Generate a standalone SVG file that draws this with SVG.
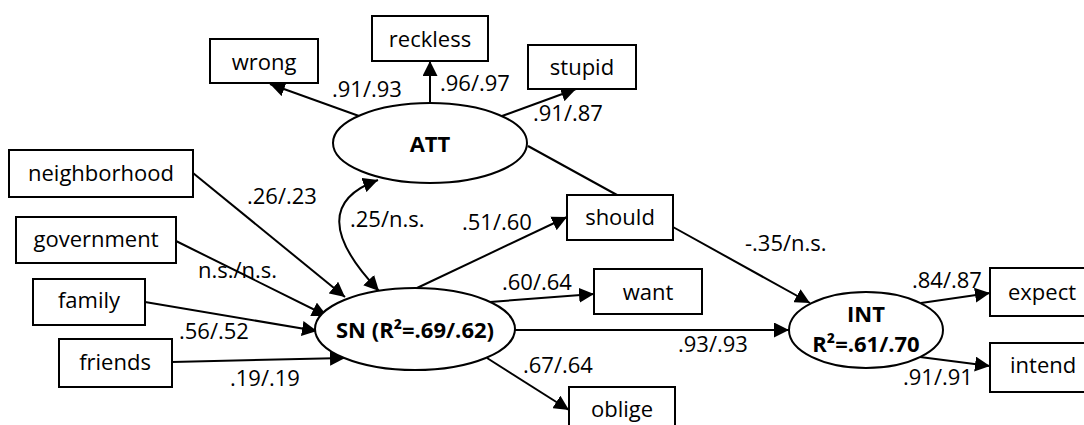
<svg xmlns="http://www.w3.org/2000/svg" width="1084" height="425" viewBox="0 0 1084 425">
  <style>
    .box { fill: #fff; stroke: #000; stroke-width: 2; }
    .lat { fill: #fff; stroke: #000; stroke-width: 2; }
    .lbl { font-family: "Open Sans", "Liberation Sans", sans-serif; font-size: 22px; fill: #000; }
    .nt { font-family: "Open Sans", "Liberation Sans", sans-serif; font-size: 22px; fill: #000; text-anchor: middle; }
    .bold { font-weight: bold; }
    .edge { fill: none; stroke: #000; stroke-width: 2; }
  </style>
  <defs>
    <marker id="arrow" viewBox="0 0 10 10" refX="10" refY="5" markerUnits="userSpaceOnUse" markerWidth="15" markerHeight="15" orient="auto-start-reverse">
      <path d="M0,0 L10,5 L0,10 z" fill="#000"/>
    </marker>
  </defs>

  <rect width="1084" height="425" fill="#fff"/>

  <!-- connectors -->
  <g id="connectors">
    <line class="edge" x1="359" y1="116" x2="270" y2="84" marker-end="url(#arrow)"/>
    <line class="edge" x1="430" y1="103" x2="430" y2="61" marker-end="url(#arrow)"/>
    <line class="edge" x1="502" y1="116" x2="576" y2="89" marker-end="url(#arrow)"/>
    <line class="edge" x1="528" y1="146" x2="617" y2="195"/>
    <path class="edge" d="M378,180 Q300,208 379,291" marker-start="url(#arrow)" marker-end="url(#arrow)"/>
    <line class="edge" x1="193" y1="173" x2="345" y2="297" marker-end="url(#arrow)"/>
    <line class="edge" x1="176" y1="241" x2="327" y2="316" marker-end="url(#arrow)"/>
    <line class="edge" x1="145" y1="302" x2="317" y2="331" marker-end="url(#arrow)"/>
    <line class="edge" x1="172" y1="362" x2="345" y2="358" marker-end="url(#arrow)"/>
    <line class="edge" x1="417" y1="288" x2="567" y2="217" marker-end="url(#arrow)"/>
    <line class="edge" x1="490" y1="302" x2="594" y2="294" marker-end="url(#arrow)"/>
    <line class="edge" x1="515" y1="330" x2="789" y2="330" marker-end="url(#arrow)"/>
    <line class="edge" x1="487" y1="358" x2="569" y2="410" marker-end="url(#arrow)"/>
    <line class="edge" x1="673" y1="227" x2="810" y2="303" marker-end="url(#arrow)"/>
    <line class="edge" x1="921" y1="303" x2="990" y2="293" marker-end="url(#arrow)"/>
    <line class="edge" x1="920" y1="357" x2="990" y2="366" marker-end="url(#arrow)"/>
  </g>

  <!-- path coefficients -->
  <g id="coefficients" class="lbl">
    <text x="332" y="97">.91/.93</text>
    <text x="440" y="91">.96/.97</text>
    <text x="533" y="121">.91/.87</text>
    <text x="247" y="204">.26/.23</text>
    <text x="350" y="227">.25/n.s.</text>
    <text x="198" y="278">n.s./n.s.</text>
    <text x="179" y="339">.56/.52</text>
    <text x="230" y="386">.19/.19</text>
    <text x="462" y="230">.51/.60</text>
    <text x="502" y="290">.60/.64</text>
    <text x="678" y="352">.93/.93</text>
    <text x="523" y="373">.67/.64</text>
    <text x="745" y="251">-.35/n.s.</text>
    <text x="912" y="288">.84/.87</text>
    <text x="903" y="385">.91/.91</text>
  </g>

  <!-- attitude indicators -->
  <g id="wrong"><rect class="box" x="210" y="39" width="108" height="44"/><text class="nt" x="264" y="70">wrong</text></g>
  <g id="reckless"><rect class="box" x="372" y="16" width="116" height="45"/><text class="nt" x="430" y="47">reckless</text></g>
  <g id="stupid"><rect class="box" x="528" y="45" width="108" height="44"/><text class="nt" x="582" y="75">stupid</text></g>

  <g id="ATT"><ellipse class="lat" cx="430" cy="143" rx="97" ry="40"/><text class="nt bold" x="430" y="152">ATT</text></g>

  <!-- subjective norm sources -->
  <g id="neighborhood"><rect class="box" x="9" y="150" width="184" height="47"/><text class="nt" x="101" y="181">neighborhood</text></g>
  <g id="government"><rect class="box" x="16" y="217" width="160" height="46"/><text class="nt" x="96" y="247">government</text></g>
  <g id="family"><rect class="box" x="33" y="279" width="112" height="46"/><text class="nt" x="89" y="308">family</text></g>
  <g id="friends"><rect class="box" x="59" y="339" width="113" height="48"/><text class="nt" x="115" y="370">friends</text></g>

  <g id="SN"><ellipse class="lat" cx="415" cy="329" rx="100" ry="41"/><text class="nt bold" x="415" y="338">SN (R²=.69/.62)</text></g>

  <!-- subjective norm indicators -->
  <g id="should"><rect class="box" x="567" y="195" width="106" height="45"/><text class="nt" x="620" y="225">should</text></g>
  <g id="want"><rect class="box" x="594" y="269" width="108" height="45"/><text class="nt" x="648" y="300">want</text></g>
  <g id="oblige"><rect class="box" x="569" y="387" width="106" height="45"/><text class="nt" x="622" y="417">oblige</text></g>

  <g id="INT"><ellipse class="lat" cx="866" cy="330" rx="77" ry="38"/><text class="nt bold" x="866" y="322">INT</text><text class="nt bold" x="866" y="352">R²=.61/.70</text></g>

  <!-- intention indicators -->
  <g id="expect"><rect class="box" x="990" y="268" width="105" height="48"/><text class="lbl" x="1008" y="300">expect</text></g>
  <g id="intend"><rect class="box" x="990" y="343" width="105" height="49"/><text class="lbl" x="1010" y="373">intend</text></g>
</svg>
